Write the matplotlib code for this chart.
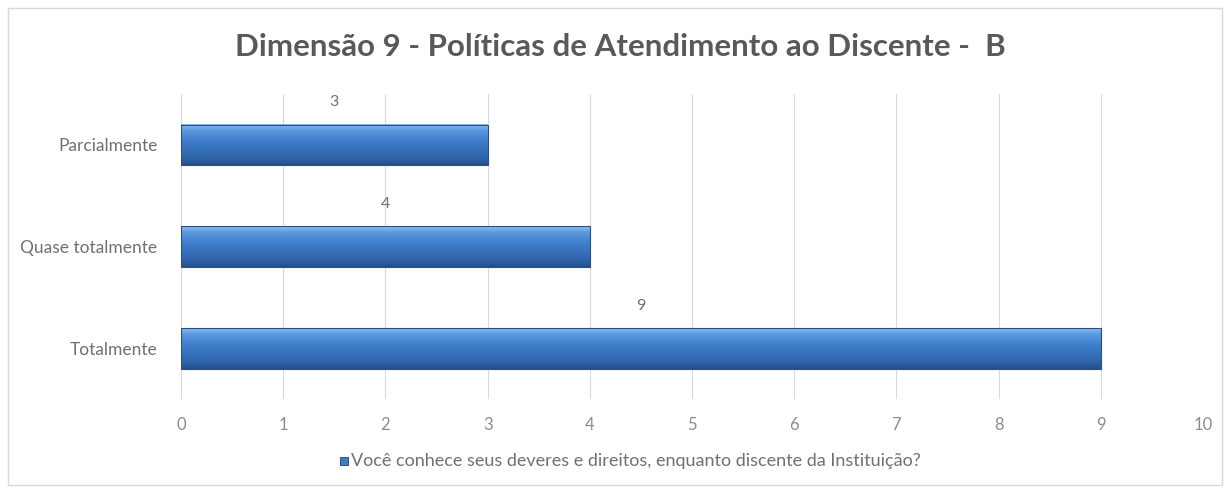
import matplotlib
matplotlib.use("Agg")
import matplotlib.pyplot as plt
import numpy as np
from matplotlib.patches import Rectangle
from matplotlib.colors import LinearSegmentedColormap

categories = ["Totalmente", "Quase totalmente", "Parcialmente"]
values = [9, 4, 3]
xticks = [0, 1, 2, 3, 4, 5, 6, 7, 8, 9, 10]
title = "Dimensão 9 - Políticas de Atendimento ao Discente -  B"
legend_label = "Você conhece seus deveres e direitos, enquanto discente da Instituição?"

plt.rcParams['font.family'] = ['Lato', 'DejaVu Sans']

fig = plt.figure(figsize=(12.31, 4.93), dpi=100)
fig.patch.set_facecolor('white')
# outer chart frame
fig.add_artist(Rectangle((8/1231, 8/493), 1214/1231, 477/493, transform=fig.transFigure,
                         fill=False, edgecolor='#d9d9d9', linewidth=1.0))

ax = fig.add_axes([181/1231, 1-399/493, (1203-181)/1231, (399-94)/493])
ax.set_xlim(0, 10)
ax.set_ylim(-0.5, 2.5)

ypos = np.arange(len(categories))
h = 0.4
cmap = LinearSegmentedColormap.from_list('g', [(0, '#24508a'), (0.15, '#2f63a8'), (0.6, '#3f7fcc'), (0.85, '#5b9ae0'), (1.0, '#8cbdf0')])
grad = np.linspace(0, 1, 100).reshape(-1, 1)
for y, v in zip(ypos, values):
    ax.barh(y, v, height=h, color='#3f7cc8', edgecolor='none', zorder=2)
    ax.imshow(grad, extent=(0, v, y - h/2, y + h/2), origin='lower', cmap=cmap,
              aspect='auto', zorder=3)
    ax.add_patch(Rectangle((0, y - h/2), v, h, fill=False, edgecolor='#2a4f80', linewidth=0.8, zorder=4))
    ax.text(v/2, y + h/2 + 0.15, str(v), ha='center', va='bottom', fontsize=11.5, color='#707070')

ax.set_yticks(ypos)
ax.set_yticklabels(categories, fontsize=12.5, color='#707070')
ax.set_xticks(xticks)
ax.set_xticklabels([str(t) for t in xticks], fontsize=12, color='#8c8c8c')
ax.tick_params(length=0, pad=13)
ax.tick_params(axis='y', pad=17)
ax.grid(axis='x', color='#d9d9d9', linewidth=0.8, zorder=0)
ax.set_axisbelow(True)
for s in ax.spines.values():
    s.set_visible(False)

fig.text(620/1231, 1-47/493, title, ha='center', va='center', fontsize=22.5, fontweight='bold', color='#595959')

# legend
lx, ly = 340/1231, 1-461/493
fig.add_artist(Rectangle((lx, ly - 4/493), 8/1231, 8/493, transform=fig.transFigure,
                         facecolor='#3f7cc8', edgecolor='#1f3f6e', linewidth=0.6))
fig.text(lx + 11/1231, ly, legend_label, ha='left', va='center', fontsize=13, color='#707070')

fig.savefig('out.png', dpi=100)
